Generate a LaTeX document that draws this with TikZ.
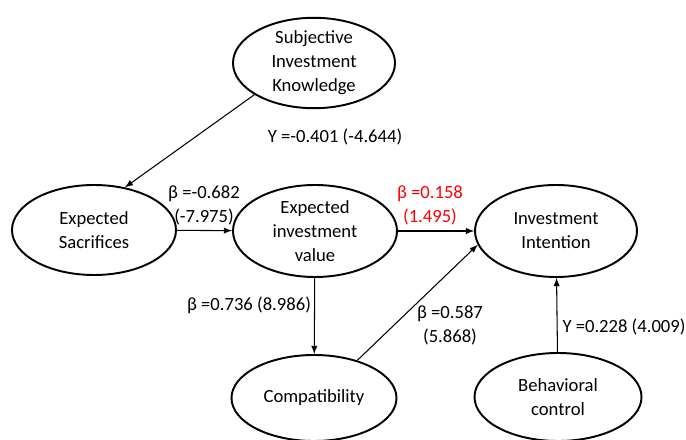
\documentclass[tikz,border=0pt]{standalone}
\usepackage{fontspec}
\setmainfont{Carlito}
\tikzset{
    construct/.style={ellipse, draw, line width=1.1pt, align=center, inner sep=0pt,
        font=\fontsize{10.6}{13.6}\selectfont},
    coef/.style={align=center, font=\fontsize{10.6}{13.6}\selectfont},
    path/.style={->, line width=0.6pt},
}
\usetikzlibrary{shapes.geometric}
\begin{document}
\begin{tikzpicture}[>=latex]
                \useasboundingbox (0,0) rectangle (13.72,8.78);

                % Draw the constructs
                \node[construct, minimum width=3.24cm, minimum height=1.80cm] (sik) at (6.28,7.52) {Subjective\\Investment\\Knowledge};
                \node[construct, minimum width=3.28cm, minimum height=1.80cm] (es) at (1.88,4.18) {Expected\\Sacrifices};
                \node[construct, minimum width=3.28cm, minimum height=1.84cm] (eiv) at (6.30,4.16) {Expected\\investment\\value};
                \node[construct, minimum width=3.24cm, minimum height=1.84cm] (ii) at (11.12,4.16) {Investment\\Intention};
                \node[construct, minimum width=3.30cm, minimum height=1.72cm] (comp) at (6.28,0.82) {Compatibility};
                \node[construct, minimum width=3.34cm, minimum height=1.76cm] (bc) at (11.16,0.84) {Behavioral\\control};

                % Draw the paths
                \draw[path] (sik.208) -- (es.54);
                \draw[path] (es) -- (eiv);
                \draw[path] (eiv) -- (ii);
                \draw[path] (eiv) -- (comp);
                \draw[path] (comp.41) -- (ii.190);
                \draw[path] (bc) -- (ii);

                % Label the path coefficients
                \node[coef] (c1) at (6.70,6.04) {Y =-0.401 (-4.644)};
                \node[coef] (c2) at (4.08,4.68) {β =-0.682\\(-7.975)};
                \node[coef, text=red] (c3) at (8.60,4.68) {β =0.158\\(1.495)};
                \node[coef] (c4) at (4.98,2.68) {β =0.736 (8.986)};
                \node[coef] (c5) at (9.00,2.28) {β =0.587\\(5.868)};
                \node[coef] (c6) at (12.48,2.24) {Y =0.228 (4.009)};

            \end{tikzpicture}
\end{document}
